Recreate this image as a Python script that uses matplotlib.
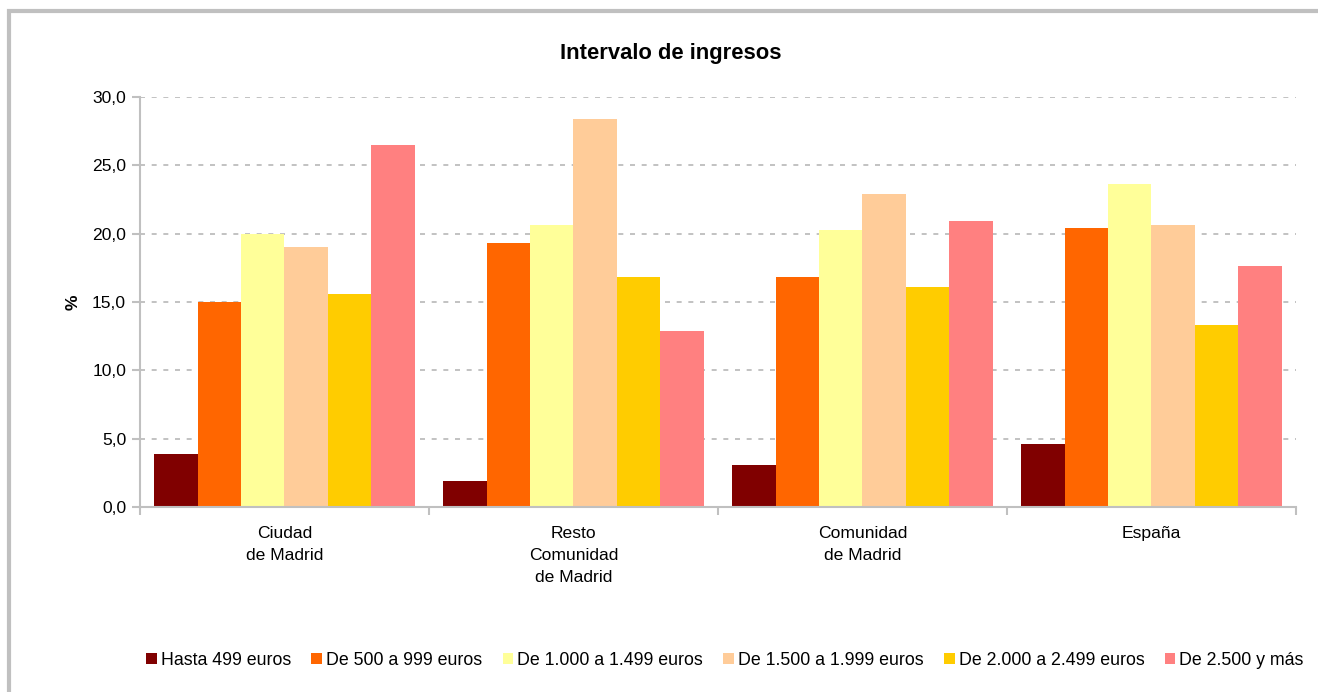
import numpy as np
import matplotlib.pyplot as plt
from matplotlib.patches import Rectangle

plt.rcParams['font.family'] = ['Liberation Sans', 'DejaVu Sans']

# Datos
zonas = ['Ciudad\nde Madrid', 'Resto\nComunidad\nde Madrid', 'Comunidad\nde Madrid', 'España']
tramos = ['Hasta 499 euros', 'De 500 a 999 euros', 'De 1.000 a 1.499 euros',
          'De 1.500 a 1.999 euros', 'De 2.000 a 2.499 euros', 'De 2.500 y más']
hasta_499 = [3.9, 1.9, 3.1, 4.6]
de_500 = [15.0, 19.3, 16.8, 20.4]
de_1000 = [20.0, 20.6, 20.3, 23.6]
de_1500 = [19.0, 28.4, 22.9, 20.6]
de_2000 = [15.6, 16.8, 16.1, 13.3]
de_2500 = [26.5, 12.9, 20.9, 17.6]
colores = ['#800000', '#ff6600', '#ffff99', '#ffcc99', '#ffcc00', '#ff8080']

series = [hasta_499, de_500, de_1000, de_1500, de_2000, de_2500]

fig = plt.figure(figsize=(13.18, 6.92), dpi=100)
ax = fig.add_axes([0.1062, 0.2673, 0.8771, 0.5925])

x = np.arange(len(zonas))
ancho = 0.15
for i, (vals, nombre, c) in enumerate(zip(series, tramos, colores)):
    ax.bar(x - 0.375 + i * ancho, vals, width=ancho, color=c, label=nombre)

ax.set_xlim(-0.5, len(zonas) - 0.5)
ax.set_ylim(0, 30)
ax.set_yticks(np.arange(0, 30.1, 5))
ax.set_yticklabels([f'{v:.1f}'.replace('.', ',') for v in np.arange(0, 30.1, 5)], fontsize=12.6)
ax.yaxis.grid(True, linestyle=(0, (3, 4)), color='#b8b8b8', linewidth=1.2)
ax.set_axisbelow(True)

# ticks del eje x entre grupos, etiquetas centradas
ax.set_xticks(np.arange(-0.5, len(zonas), 1))
ax.set_xticklabels([])
ax.set_xticks(x, minor=True)
ax.set_xticklabels(zonas, minor=True, fontsize=12.6, linespacing=1.55, va='top')
ax.tick_params(axis='x', which='minor', length=0, pad=14)
ax.tick_params(axis='x', which='major', length=6, color='#c0c0c0', width=1.5)
ax.tick_params(axis='y', length=6, color='#c0c0c0', width=1.5, pad=4)

for s in ['top', 'right']:
    ax.spines[s].set_visible(False)
for s in ['left', 'bottom']:
    ax.spines[s].set_color('#c0c0c0')
    ax.spines[s].set_linewidth(1.5)

ax.set_ylabel('%', fontsize=12.6, fontweight='bold', labelpad=8)
fig.text(0.509, 0.922, 'Intervalo de ingresos', ha='center', va='center',
         fontsize=15.8, fontweight='bold')

fig.legend(loc='center', bbox_to_anchor=(0.55, 0.046), ncol=6, frameon=False,
           fontsize=12.8, handlelength=0.6, handleheight=0.6, handletextpad=0.22,
           columnspacing=1.15)

# marco gris
fig.patches.append(Rectangle((9 / 1318, -0.1), 1.2, 1 - 11 / 692 + 0.1,
                             transform=fig.transFigure, fill=False,
                             edgecolor='#c0c0c0', linewidth=3))

fig.savefig('out.png', dpi=100)
